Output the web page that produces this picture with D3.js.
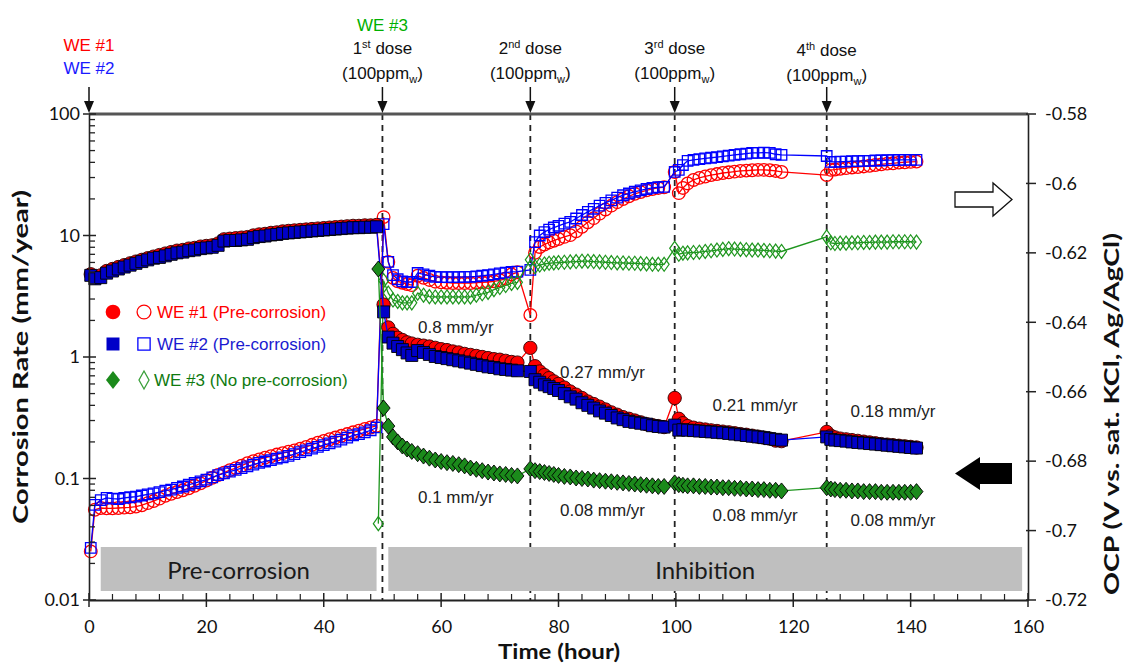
<!DOCTYPE html>
<html><head><meta charset="utf-8">
<script src="https://cdn.jsdelivr.net/npm/d3@7"></script>
<style>body{margin:0;background:#fff}svg{display:block}</style>
</head><body>
<svg id="c" width="1129" height="665"></svg>
<script>
// ---------------- DATA ----------------
const timeWE12 = [0.3,1,2,3,4,5,6,7,8,9,10,11,12,13,14,15,16,17,18,19,20,21,22,23,24,25,26,27,28,29,30,31,32,33,34,35,36,37,38,39,40,41,42,43,44,45,46,47,48,49,
  50.2,51,51.8,52.6,53.4,54.2,55,56,57,58,59,60,61,62,63,64,65,66,67,68,69,70,71,72,73,
  75.2,76,76.8,77.6,78.4,79.2,80,81,82,83,84,85,86,87,88,89,90,91,92,93,94,95,96,97,98,
  99.8,100.5,101.2,102,103,104,105,106,107,108,109,110,111,112,113,114,115,116,117,118,
  125.7,126.4,127.1,128,129,130,131,132,133,134,135,136,137,138,139,140,141];
const timeWE3 = [49.3,
  50.2,51,51.8,52.6,53.4,54.2,55,56,57,58,59,60,61,62,63,64,65,66,67,68,69,70,71,72,73,
  75.2,76,76.8,77.6,78.4,79.2,80,81,82,83,84,85,86,87,88,89,90,91,92,93,94,95,96,97,98,
  99.8,100.5,101.2,102,103,104,105,106,107,108,109,110,111,112,113,114,115,116,117,118,
  125.7,126.4,127.1,128,129,130,131,132,133,134,135,136,137,138,139,140,141];

// corrosion rate (mm/year), filled markers, left log axis
const crWE1 = [4.8,4.5,4.7,5.1,5.3,5.5,5.7,5.9,6.1,6.3, 6.5,6.7,6.9,7.1,7.3,7.5,7.6,7.8,7.9,8.1, 8.2,8.3,8.6,9.3,9.4,9.5,9.6,9.7,10.0,10.2, 10.3,10.5,10.6,10.8,10.9,11.0,11.1,11.2,11.3,11.4, 11.5,11.6,11.7,11.8,11.9,12.0,12.0,12.1,12.1,12.2,
  2.7,1.75,1.55,1.44,1.38,1.32,1.29, 1.26,1.24,1.22,1.19,1.16,1.14,1.11,1.09,1.06,1.04,1.02,1.0,0.98,0.96,0.95,0.93,0.91,0.9,
  1.19,0.84,0.76,0.71,0.67,0.63, 0.6,0.56,0.52,0.49,0.46,0.43,0.41,0.39,0.37,0.35,0.335,0.32,0.31,0.3,0.29,0.28,0.275,0.27,0.265,
  0.46,0.31,0.285, 0.27,0.262,0.257,0.253,0.249,0.246,0.243,0.24,0.236,0.232,0.229,0.225,0.221,0.217,0.213,0.205,0.203,
  0.242,0.225,0.218, 0.213,0.21,0.207,0.204,0.201,0.198,0.195,0.192,0.19,0.188,0.186,0.184,0.182,0.18];
const crWE2 = [4.7,4.4,4.5,4.9,5.1,5.3,5.5,5.7,5.9,6.1, 6.3,6.5,6.6,6.8,7.0,7.2,7.3,7.5,7.6,7.8, 7.9,8.0,8.3,9.0,9.1,9.1,9.2,9.3,9.6,9.8, 9.9,10.1,10.2,10.4,10.5,10.6,10.7,10.8,10.9,11.0, 11.1,11.2,11.3,11.4,11.5,11.6,11.6,11.7,11.7,11.8,
  2.35,1.46,1.3,1.22,1.15,1.08,1.03, 1.13,1.09,1.05,1.01,0.99,0.97,0.95,0.93,0.91,0.89,0.87,0.85,0.83,0.82,0.8,0.79,0.78,0.77,
  0.76,0.65,0.62,0.59,0.57,0.55, 0.53,0.5,0.47,0.45,0.42,0.4,0.38,0.36,0.345,0.33,0.315,0.305,0.295,0.29,0.285,0.28,0.272,0.268,0.265,
  0.275,0.25,0.252, 0.25,0.248,0.246,0.244,0.242,0.24,0.238,0.235,0.232,0.229,0.226,0.223,0.22,0.217,0.213,0.21,0.207,
  0.22,0.21,0.207, 0.205,0.203,0.2,0.198,0.196,0.194,0.192,0.19,0.188,0.186,0.184,0.182,0.18,0.178];
const crWE3 = [5.3,
  0.38,0.27,0.22,0.2,0.185,0.175,0.167, 0.16,0.153,0.147,0.142,0.138,0.135,0.133,0.13,0.127,0.122,0.119,0.116,0.113,0.111,0.109,0.108,0.106,0.105,
  0.12,0.116,0.114,0.112,0.11,0.108, 0.106,0.104,0.103,0.101,0.1,0.099,0.097,0.096,0.095,0.094,0.093,0.092,0.091,0.09,0.089,0.088,0.087,0.086,0.086,
  0.092,0.089,0.088, 0.087,0.087,0.086,0.086,0.085,0.085,0.084,0.084,0.083,0.083,0.082,0.082,0.081,0.081,0.08,0.08,0.079,
  0.084,0.082,0.081, 0.08,0.08,0.079,0.079,0.078,0.078,0.078,0.077,0.077,0.077,0.077,0.077,0.077,0.078];

// OCP (V vs sat. KCl, Ag/AgCl), open markers, right axis
const ocpWE1 = [-0.7060,-0.6940,-0.6935,-0.6936,-0.6936,-0.6935,-0.6934,-0.6933,-0.6931,-0.6927, -0.6921,-0.6915,-0.6908,-0.6900,-0.6894,-0.6889,-0.6884,-0.6878,-0.6871,-0.6864, -0.6856,-0.6848,-0.6840,-0.6833,-0.6826,-0.6820,-0.6813,-0.6806,-0.6800,-0.6795, -0.6790,-0.6786,-0.6781,-0.6777,-0.6773,-0.6769,-0.6764,-0.6759,-0.6753,-0.6747, -0.6742,-0.6737,-0.6732,-0.6727,-0.6722,-0.6717,-0.6712,-0.6707,-0.6703,-0.6698,
  -0.6097,-0.6226,-0.6272,-0.6282,-0.6286,-0.6290,-0.6293, -0.6266,-0.6272,-0.6278,-0.6283,-0.6285,-0.6286,-0.6287,-0.6287,-0.6287,-0.6287,-0.6286,-0.6285,-0.6284,-0.6282,-0.6279,-0.6274,-0.6262,-0.6256,
  -0.6379,-0.6200,-0.6183,-0.6176,-0.6170,-0.6165, -0.6160,-0.6154,-0.6149,-0.6138,-0.6125,-0.6112,-0.6100,-0.6087,-0.6075,-0.6064,-0.6054,-0.6045,-0.6037,-0.6030,-0.6025,-0.6020,-0.6016,-0.6013,-0.6011,
  -0.5967,-0.6028,-0.6013, -0.6000,-0.5990,-0.5984,-0.5980,-0.5976,-0.5973,-0.5970,-0.5968,-0.5966,-0.5964,-0.5963,-0.5962,-0.5961,-0.5961,-0.5962,-0.5964,-0.5967,
  -0.5976,-0.5961,-0.5960, -0.5958,-0.5956,-0.5954,-0.5953,-0.5951,-0.5949,-0.5947,-0.5945,-0.5943,-0.5942,-0.5940,-0.5939,-0.5938,-0.5937];
const ocpWE2 = [-0.7050,-0.6926,-0.6912,-0.6906,-0.6908,-0.6909,-0.6906,-0.6904,-0.6902,-0.6899, -0.6896,-0.6893,-0.6889,-0.6885,-0.6882,-0.6877,-0.6873,-0.6868,-0.6863,-0.6858, -0.6853,-0.6847,-0.6840,-0.6835,-0.6830,-0.6825,-0.6820,-0.6815,-0.6810,-0.6805, -0.6801,-0.6797,-0.6793,-0.6789,-0.6785,-0.6780,-0.6774,-0.6769,-0.6764,-0.6759, -0.6754,-0.6749,-0.6744,-0.6738,-0.6732,-0.6726,-0.6722,-0.6717,-0.6711,-0.6703,
  -0.6117,-0.6226,-0.6264,-0.6276,-0.6282,-0.6284,-0.6284, -0.6258,-0.6262,-0.6266,-0.6269,-0.6270,-0.6270,-0.6270,-0.6270,-0.6269,-0.6269,-0.6268,-0.6266,-0.6264,-0.6262,-0.6259,-0.6257,-0.6255,-0.6254,
  -0.6249,-0.6169,-0.6150,-0.6140,-0.6133,-0.6127, -0.6122,-0.6116,-0.6111,-0.6101,-0.6091,-0.6082,-0.6073,-0.6064,-0.6056,-0.6049,-0.6041,-0.6034,-0.6029,-0.6024,-0.6020,-0.6016,-0.6013,-0.6011,-0.6010,
  -0.5967,-0.5961,-0.5947, -0.5935,-0.5932,-0.5930,-0.5928,-0.5926,-0.5924,-0.5922,-0.5920,-0.5918,-0.5916,-0.5914,-0.5912,-0.5912,-0.5911,-0.5912,-0.5916,-0.5918,
  -0.5921,-0.5938,-0.5938, -0.5937,-0.5937,-0.5936,-0.5936,-0.5935,-0.5935,-0.5934,-0.5934,-0.5933,-0.5933,-0.5932,-0.5932,-0.5932,-0.5932];
const ocpWE3 = [-0.698,
  -0.628,-0.6316,-0.6336,-0.634,-0.6344,-0.6344,-0.6344, -0.6316,-0.6322,-0.6326,-0.6327,-0.6327,-0.6327,-0.6327,-0.6327,-0.6327,-0.6327,-0.6322,-0.6318,-0.6314,-0.6306,-0.6300,-0.6294,-0.6288,-0.6285,
  -0.6220,-0.6240,-0.6235,-0.6232,-0.6230,-0.6229, -0.6228,-0.6227,-0.6226,-0.6225,-0.6224,-0.6224,-0.6225,-0.6226,-0.6227,-0.6228,-0.6229,-0.6229,-0.6230,-0.6230,-0.6231,-0.6232,-0.6233,-0.6233,-0.6233,
  -0.6187,-0.6204,-0.6201, -0.6200,-0.6199,-0.6198,-0.6196,-0.6194,-0.6192,-0.6190,-0.6188,-0.6189,-0.6190,-0.6191,-0.6192,-0.6192,-0.6193,-0.6194,-0.6195,-0.6196,
  -0.6154,-0.6171,-0.6173, -0.6172,-0.6172,-0.6171,-0.6171,-0.6170,-0.6170,-0.6169,-0.6169,-0.6169,-0.6168,-0.6168,-0.6168,-0.6168,-0.6169];

const doseTimes = [50, 75.2, 99.8, 125.7];
const doseOrdinals = [["1","st"],["2","nd"],["3","rd"],["4","th"]];
const xTicks = [0,20,40,60,80,100,120,140,160];
const crTicks = [0.01,0.1,1,10,100];
const crTickLabels = ["0.01","0.1","1","10","100"];
const ocpTicks = [-0.72,-0.70,-0.68,-0.66,-0.64,-0.62,-0.60,-0.58];
const ocpTickLabels = ["-0.72","-0.7","-0.68","-0.66","-0.64","-0.62","-0.6","-0.58"];
const legendLabels = ["WE #1 (Pre-corrosion)","WE #2 (Pre-corrosion)","WE #3 (No pre-corrosion)"];
const rateNotes = [ // [time, rate label, row]
  [62.5,"0.8 mm/yr",0],[87.5,"0.27 mm/yr",1],[113.5,"0.21 mm/yr",2],[137,"0.18 mm/yr",3],
  [62.5,"0.1 mm/yr",4],[87.5,"0.08 mm/yr",5],[113.5,"0.08 mm/yr",6],[137,"0.08 mm/yr",7]];
const phases = [["Pre-corrosion",2,49],["Inhibition",51,159]];

// ---------------- CHART ----------------
const svg = d3.select('#c');
const x = d3.scaleLinear().domain([0,160]).range([89,1028]);
const yL = d3.scaleLog().domain([0.01,100]).range([600,114]);
const yR = d3.scaleLinear().domain([-0.72,-0.58]).range([600,114]);
const ARIAL = "'Liberation Sans', Arial, sans-serif";
const CAL = "Lato, 'Open Sans', sans-serif";

const RED="#ff0000", BLUE="#0000ff", BLUEF="#0000c8", GREEN="#1f961f", GREENF="#1b8a1b";

// dose dashed lines
doseTimes.forEach(t=>{
  svg.append('line').attr('x1',x(t)).attr('x2',x(t)).attr('y1',114).attr('y2',600)
    .attr('stroke','#222').attr('stroke-width',1.8).attr('stroke-dasharray','6,5');
});

// phase rectangles (drawn over the dashed lines)
phases.forEach(([lab,a,b])=>{
  svg.append('rect').attr('x',x(a)).attr('y',547).attr('width',x(b)-x(a)).attr('height',44).attr('fill','#bfbfbf');
  svg.append('text').attr('x',(x(a)+x(b))/2).attr('y',579).attr('text-anchor','middle')
    .attr('font-family',CAL).attr('font-size',24).attr('fill','#1a1a1a').text(lab);
});

// series
function diamond(hw,hh){return `M0,${-hh}L${hw},0L0,${hh}L${-hw},0Z`;}
const markers = {
  circleF: {d:d3.symbol(d3.symbolCircle,140)(), fill:RED, stroke:'#300'},
  squareF: {d:d3.symbol(d3.symbolSquare,144)(), fill:BLUEF, stroke:'#000'},
  diamondF:{d:diamond(6.5,8), fill:GREENF, stroke:'#000'},
  circleO: {d:d3.symbol(d3.symbolCircle,125)(), fill:'none', stroke:RED},
  squareO: {d:d3.symbol(d3.symbolSquare,110)(), fill:'none', stroke:BLUE},
  diamondO:{d:diamond(5,7), fill:'none', stroke:GREEN},
};
function drawSeries(times, vals, yS, color, mk, sw){
  const pts = times.map((t,i)=>[t, vals[i]]).filter(p=>p[1]!==undefined);
  const g = svg.append('g');
  g.append('path').datum(pts)
    .attr('d', d3.line().x(d=>x(d[0])).y(d=>yS(d[1])))
    .attr('fill','none').attr('stroke',color).attr('stroke-width',1.3);
  const m = markers[mk];
  g.selectAll('path.m').data(pts).enter().append('path').attr('class','m')
    .attr('d',m.d).attr('transform',d=>`translate(${x(d[0])},${yS(d[1])})`)
    .attr('fill',m.fill).attr('stroke',m.stroke).attr('stroke-width',sw);
}
drawSeries(timeWE12, ocpWE1, yR, RED, 'circleO', 1.3);
drawSeries(timeWE12, ocpWE2, yR, BLUE, 'squareO', 1.3);
drawSeries(timeWE3, ocpWE3, yR, GREEN, 'diamondO', 1.2);
drawSeries(timeWE12, crWE1, yL, RED, 'circleF', 0.9);
drawSeries(timeWE12, crWE2, yL, BLUE, 'squareF', 0.9);
drawSeries(timeWE3, crWE3, yL, GREEN, 'diamondF', 0.9);

// top frame line
svg.append('line').attr('x1',x(0)).attr('x2',x(160)).attr('y1',yL(100)).attr('y2',yL(100))
  .attr('stroke','#555').attr('stroke-width',3);

// left axis
const gL = svg.append('g').attr('transform',`translate(${x(0)},0)`)
  .call(d3.axisLeft(yL).tickValues(crTicks).tickFormat((d,i)=>crTickLabels[i]).tickSize(0).tickPadding(9));
gL.select('.domain').attr('stroke','#222').attr('stroke-width',1.6);
gL.selectAll('text').attr('font-family',CAL).attr('font-size',18).attr('fill','#111');
crTicks.forEach(v=>{
  gL.append('line').attr('x1',-6).attr('x2',7).attr('y1',yL(v)).attr('y2',yL(v)).attr('stroke','#222').attr('stroke-width',1.5);
  if(v<100) for(let k=2;k<=9;k++){
    gL.append('line').attr('x1',0).attr('x2',6).attr('y1',yL(v*k)).attr('y2',yL(v*k)).attr('stroke','#222').attr('stroke-width',1.3);
  }
});

// bottom axis
const gB = svg.append('g').attr('transform',`translate(0,${yL(0.01)})`)
  .call(d3.axisBottom(x).tickValues(xTicks).tickSize(0).tickPadding(20));
gB.select('.domain').attr('stroke','#222').attr('stroke-width',2);
gB.selectAll('text').attr('font-family',CAL).attr('font-size',18).attr('fill','#111');
for(let t=0;t<=160;t+=4){
  if(t%20===0) gB.append('line').attr('x1',x(t)).attr('x2',x(t)).attr('y1',-7).attr('y2',7).attr('stroke','#222').attr('stroke-width',1.5);
  else gB.append('line').attr('x1',x(t)).attr('x2',x(t)).attr('y1',-6).attr('y2',0).attr('stroke','#222').attr('stroke-width',1.2);
}

// right axis
const gR = svg.append('g').attr('transform',`translate(${x(160)},0)`)
  .call(d3.axisRight(yR).tickValues(ocpTicks).tickFormat((d,i)=>ocpTickLabels[i]).tickSize(0).tickPadding(17));
gR.select('.domain').attr('stroke','#222').attr('stroke-width',1.6);
gR.selectAll('text').attr('font-family',CAL).attr('font-size',18).attr('fill','#111');
ocpTicks.forEach(v=>{
  gR.append('line').attr('x1',-2).attr('x2',8).attr('y1',yR(v)).attr('y2',yR(v)).attr('stroke','#222').attr('stroke-width',1.5);
});

// axis titles
svg.append('text').attr('transform',`translate(28,357) rotate(-90)`).attr('text-anchor','middle')
  .attr('font-family',CAL).attr('font-weight','bold').attr('font-size',21).attr('fill','#111')
  .attr('textLength',334).attr('lengthAdjust','spacingAndGlyphs').text('Corrosion Rate (mm/year)');
svg.append('text').attr('x',559).attr('y',659).attr('text-anchor','middle')
  .attr('font-family',CAL).attr('font-weight','bold').attr('font-size',21).attr('fill','#111')
  .attr('textLength',122).attr('lengthAdjust','spacingAndGlyphs').text('Time (hour)');
svg.append('text').attr('transform',`translate(1119,414) rotate(-90)`).attr('text-anchor','middle')
  .attr('font-family',CAL).attr('font-weight','bold').attr('font-size',21).attr('fill','#111')
  .attr('textLength',362).attr('lengthAdjust','spacingAndGlyphs').text('OCP (V vs. sat. KCl, Ag/AgCl)');

// top annotations
function downArrow(px){
  svg.append('line').attr('x1',px).attr('x2',px).attr('y1',87).attr('y2',103).attr('stroke','#111').attr('stroke-width',1.5);
  svg.append('path').attr('d',`M${px-5},101L${px+5},101L${px},113Z`).attr('fill','#111');
}
downArrow(x(0));
svg.append('text').attr('x',x(0)).attr('y',51).attr('text-anchor','middle').attr('font-family',ARIAL).attr('font-size',17).attr('fill','#ff0000').text('WE #1');
svg.append('text').attr('x',x(0)).attr('y',74).attr('text-anchor','middle').attr('font-family',ARIAL).attr('font-size',17).attr('fill','#1a1aff').text('WE #2');
svg.append('text').attr('x',x(50)).attr('y',31).attr('text-anchor','middle').attr('font-family',ARIAL).attr('font-size',17).attr('fill','#00b000').text('WE #3');
doseTimes.forEach((t,i)=>{
  const px=x(t), off = i===3?2:0;
  downArrow(px);
  const t1 = svg.append('text').attr('x',px).attr('y',54+off).attr('text-anchor','middle').attr('font-family',ARIAL).attr('font-size',17).attr('fill','#111');
  t1.append('tspan').text(doseOrdinals[i][0]);
  t1.append('tspan').attr('dy',-6).attr('font-size',11).text(doseOrdinals[i][1]);
  t1.append('tspan').attr('dy',6).text(' dose');
  const t2 = svg.append('text').attr('x',px).attr('y',79+off).attr('text-anchor','middle').attr('font-family',ARIAL).attr('font-size',17).attr('fill','#111');
  t2.append('tspan').text('(100ppm');
  t2.append('tspan').attr('dy',4).attr('font-size',11).text('w');
  t2.append('tspan').attr('dy',-4).text(')');
});

// rate annotations
const noteY = [333,378,411,417,503,516,521,526];
rateNotes.forEach(([t,lab,r])=>{
  svg.append('text').attr('x',x(t)).attr('y',noteY[r]).attr('text-anchor','middle')
    .attr('font-family',ARIAL).attr('font-size',17).attr('fill','#222').text(lab);
});

// legend
const legColors = ['#ff0000','#1a1ad0','#0f7a0f'];
const legF = ['circleF','squareF','diamondF'], legO = ['circleO','squareO','diamondO'];
const legY = [312,344,380];
legendLabels.forEach((lab,i)=>{
  const mf = markers[legF[i]], mo = markers[legO[i]];
  svg.append('path').attr('d', i===2?diamond(7,9):(i===1?d3.symbol(d3.symbolSquare,169)():d3.symbol(d3.symbolCircle,170)()))
    .attr('transform',`translate(113,${legY[i]})`).attr('fill',mf.fill);
  svg.append('path').attr('d', i===2?diamond(5,9):(i===1?d3.symbol(d3.symbolSquare,150)():d3.symbol(d3.symbolCircle,150)()))
    .attr('transform',`translate(144,${legY[i]})`).attr('fill','none').attr('stroke',i===2?'#3aa03a':mo.stroke).attr('stroke-width',1.3);
  svg.append('text').attr('x',i===2?154:157).attr('y',legY[i]+6).attr('font-family',ARIAL).attr('font-size',17)
    .attr('fill',legColors[i]).text(lab);
});

// direction arrows (open -> right axis, filled -> left axis)
svg.append('path').attr('d','M955,192L993,192L993,183L1012,199.5L993,216L993,207L955,207Z')
  .attr('fill','#fff').attr('stroke','#111').attr('stroke-width',1.3);
svg.append('path').attr('d','M1012,463L980,463L980,457L955,473.5L980,490L980,484L1012,484Z')
  .attr('fill','#000');
</script>
</body></html>
